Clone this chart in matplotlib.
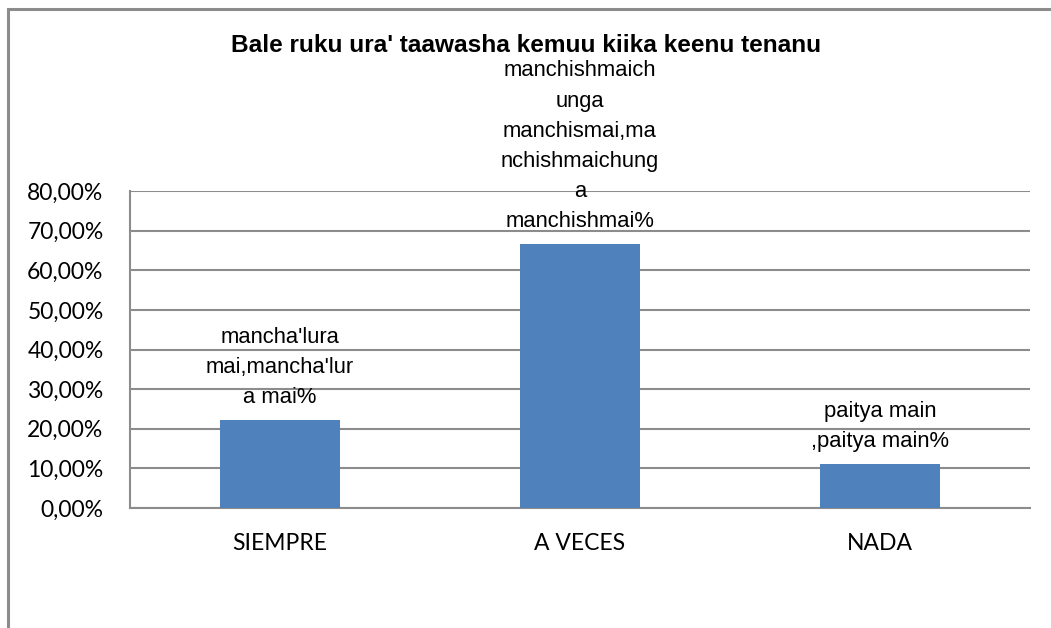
import matplotlib
matplotlib.use("Agg")
import matplotlib.pyplot as plt
from matplotlib.patches import Rectangle
from matplotlib.ticker import FuncFormatter

categories = ["SIEMPRE", "A VECES", "NADA"]
values = [22.22, 66.67, 11.11]
labels = ["mancha'lura\nmai,mancha'lur\na mai%",
          "manchishmaich\nunga\nmanchismai,ma\nnchishmaichung\na\nmanchishmai%",
          "paitya main\n,paitya main%"]
title = "Bale ruku ura' taawasha kemuu kiika keenu tenanu"
yticks = [0, 10, 20, 30, 40, 50, 60, 70, 80]

W, H = 1051, 628
fig = plt.figure(figsize=(W / 100, H / 100), dpi=100)
fig.patch.set_facecolor("white")

# outer chart frame (extends past right/bottom of image)
fig.patches.append(Rectangle((8 / W, -0.2), 1.2, (H - 9) / H + 0.2,
                             transform=fig.transFigure, fill=False,
                             edgecolor="#8c8c8c", linewidth=2.2))

left, right, top, bottom = 130, 1030, 191, 508
ax = fig.add_axes([left / W, 1 - bottom / H, (right - left) / W, (bottom - top) / H])

x = range(len(categories))
ax.bar(x, values, width=0.4, color="#4F81BD", zorder=3)
ax.set_xlim(-0.5, len(categories) - 0.5)
ax.set_ylim(0, 80)
ax.set_yticks(yticks)
ax.yaxis.set_major_formatter(FuncFormatter(lambda v, p: f"{v:.2f}%".replace(".", ",")))
ax.set_xticks(list(x))
ax.set_xticklabels(categories)
ax.grid(axis="y", color="#8c8c8c", linewidth=1.5, zorder=0)
for s in ["top", "right"]:
    ax.spines[s].set_visible(False)
for s in ["left", "bottom"]:
    ax.spines[s].set_color("#8c8c8c")
    ax.spines[s].set_linewidth(1.5)
ax.tick_params(axis="both", length=0, labelsize=16.5, colors="black")
ax.tick_params(axis="y", pad=19)
ax.tick_params(axis="x", pad=18)
for t in ax.get_xticklabels() + ax.get_yticklabels():
    t.set_fontfamily("Lato")

for i, (v, lab) in enumerate(zip(values, labels)):
    ax.annotate(lab, (i, v), xytext=(0, 8.5), textcoords="offset points",
                ha="center", va="bottom", fontsize=15.8, family="Liberation Sans",
                linespacing=1.57, zorder=4, clip_on=False)

fig.text(526 / W, 1 - 45 / H, title, ha="center", va="center",
         fontsize=17.6, fontweight="bold", family="Liberation Sans")

fig.savefig("out.png", dpi=100)
